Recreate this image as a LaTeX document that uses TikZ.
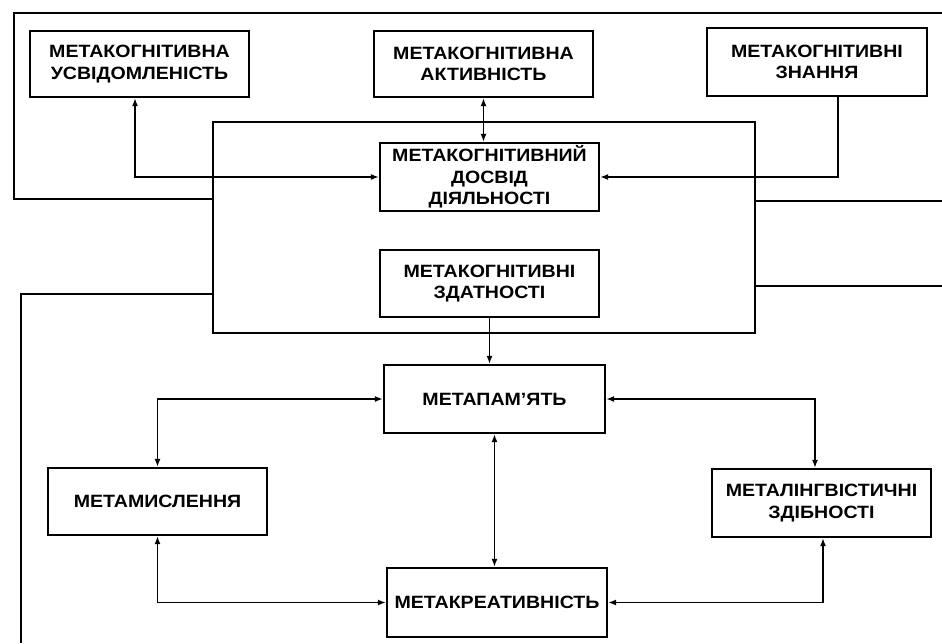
\documentclass[tikz,border=0pt]{standalone}
\usepackage{fontspec}
\setmainfont{Liberation Sans}[FakeStretch=1.1]
\usetikzlibrary{arrows.meta}
\begin{document}
\begin{tikzpicture}[x=1pt,y=-1pt,
  box/.style={draw,line width=2.2pt,minimum width=#1,inner sep=0pt,align=center,
    font=\bfseries\fontsize{17.8}{21.5}\selectfont},
  box/.default=219,
  conn/.style={line width=1.8pt},
  tip/.style={-{Latex[length=8pt,width=6pt]}},
  both/.style={{Latex[length=8pt,width=6pt]}-{Latex[length=8pt,width=6pt]}}]
\useasboundingbox (0,0) rectangle (942,643);
% big frame
\node[draw,line width=2.2pt,minimum width=542,minimum height=211] (big) at (484,227.5) {};
% boxes
\node[box,minimum height=66] (u) at (139.5,64) {МЕТАКОГНІТИВНА\\УСВІДОМЛЕНІСТЬ};
\node[box,minimum height=66] (a) at (483.5,64) {МЕТАКОГНІТИВНА\\АКТИВНІСТЬ};
\node[box=220,minimum height=68] (z) at (817,62) {МЕТАКОГНІТИВНІ\\ЗНАННЯ};
\node[box,minimum height=68,fill=white] (d) at (489.5,177) {МЕТАКОГНІТИВНИЙ\\ДОСВІД\\ДІЯЛЬНОСТІ};
\node[box,minimum height=67] (s) at (489.5,283.5) {МЕТАКОГНІТИВНІ\\ЗДАТНОСТІ};
\node[box=221,minimum height=68] (p) at (494.5,399) {МЕТАПАМ'ЯТЬ};
\node[box,minimum height=67] (m) at (157.5,501.5) {МЕТАМИСЛЕННЯ};
\node[box,minimum height=68] (l) at (821.5,503) {МЕТАЛІНГВІСТИЧНІ\\ЗДІБНОСТІ};
\node[box=220,minimum height=69] (k) at (497,602.5) {МЕТАКРЕАТИВНІСТЬ};
% free ends
\coordinate (tl) at (14,13);
\coordinate (tr) at (942,13);
\coordinate (r1) at (942,201);
\coordinate (r2) at (942,286);
\coordinate (bl) at (21,643);
% outer lines
\draw[conn] (big.west |- 0,199) -- (tl |- 0,199) -- (tl) -- (tr);
\draw[conn] (big.east |- r1) -- (r1);
\draw[conn] (big.west |- 0,294) -- (bl |- 0,294) -- (bl);
\draw[conn] (big.east |- r2) -- (r2);
% connectors
\draw[conn,both] ([xshift=-4.5pt]u.south) |- (d.west);
\draw[conn,both] (a.south) -- (a.south |- d.north);
\draw[conn,tip] ([xshift=21pt]z.south) |- (d.east);
\draw[conn,tip] (s.south) -- (s.south |- p.north);
\draw[conn,both] (p.west) -| (m.north);
\draw[conn,both] (p.east) -| ([xshift=-6.5pt]l.north);
\draw[conn,both] (p.south) -- (p.south |- k.north);
\draw[conn,both] (m.south) |- (k.west);
\draw[conn,both] ([xshift=1.5pt]l.south) |- (k.east);
\end{tikzpicture}
\end{document}
